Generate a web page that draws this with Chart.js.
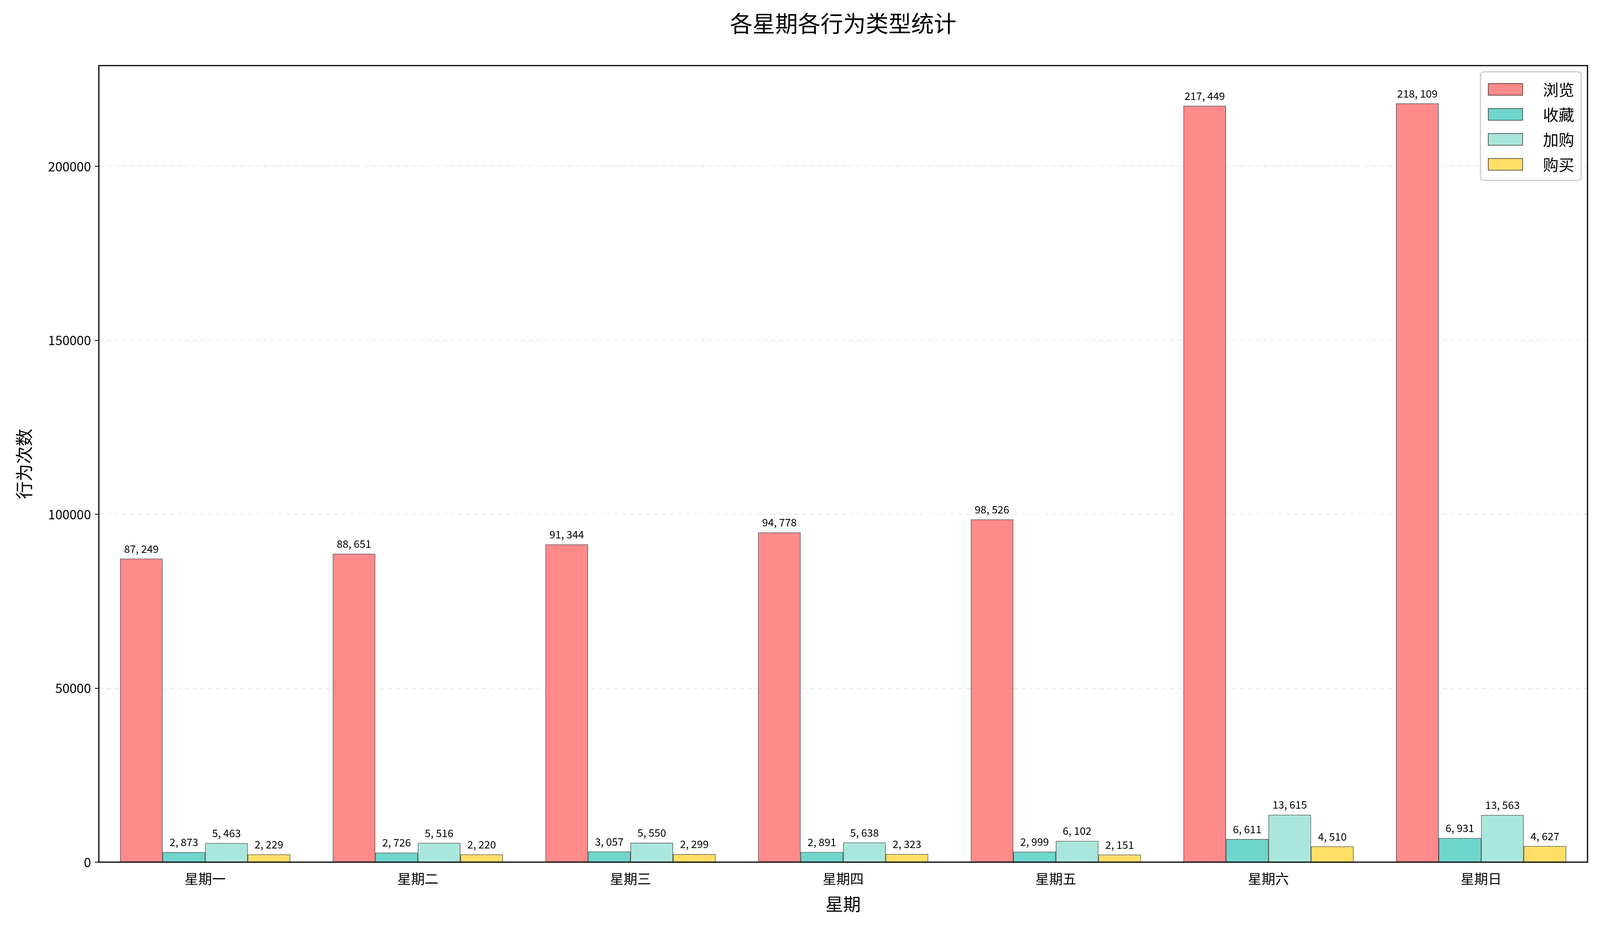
<!DOCTYPE html>
<html>
<head>
<meta charset="utf-8">
<script src="https://cdn.jsdelivr.net/npm/chart.js@4"></script>
<style>
  html, body { margin: 0; padding: 0; background: #fff; overflow: hidden; }
  #wrap { position: relative; width: 100vw; height: 100vh; }
</style>
</head>
<body>
<div id="wrap"><canvas id="myChart"></canvas></div>
<script>
"use strict";

const days = ["星期一", "星期二", "星期三", "星期四", "星期五", "星期六", "星期日"];
const seriesNames = ["浏览", "收藏", "加购", "购买"];
const browse = [87249, 88651, 91344, 94778, 98526, 217449, 218109];
const favor = [2873, 2726, 3057, 2891, 2999, 6611, 6931];
const cart = [5463, 5516, 5550, 5638, 6102, 13615, 13563];
const buy = [2229, 2220, 2299, 2323, 2151, 4510, 4627];
const yTicks = [0, 50000, 100000, 150000, 200000];
const colors = ["#ff8a8a", "#6ed6cd", "#a9e7dc", "#ffdf66"];

const FONT = "'Noto Sans CJK SC', 'DejaVu Sans', sans-serif";

function fmt(v) {
  return v.toString().replace(/\B(?=(\d{3})+(?!\d))/g, ", ");
}

const allSeries = [browse, favor, cart, buy];

// draws titles, bar labels, frame and legend
const decor = {
  id: "decor",
  afterDatasetsDraw(chart) {
    const ctx = chart.ctx;
    const a = chart.chartArea;
    const H = chart.height;
    ctx.save();
    // bar value labels
    ctx.fillStyle = "#000";
    ctx.font = "27px " + FONT;
    ctx.textAlign = "center";
    ctx.textBaseline = "bottom";
    chart.data.datasets.forEach((ds, i) => {
      chart.getDatasetMeta(i).data.forEach((bar, j) => {
        ctx.fillText(fmt(ds.data[j]), bar.x, bar.y - 12);
      });
    });
    // frame
    ctx.strokeStyle = "#000";
    ctx.lineWidth = 3;
    ctx.strokeRect(a.left, a.top, a.right - a.left, a.bottom - a.top);
    // title
    ctx.font = "58px " + FONT;
    ctx.textBaseline = "middle";
    ctx.fillText("各星期各行为类型统计", (a.left + a.right) / 2, 60);
    // x axis title
    ctx.font = "45px " + FONT;
    ctx.fillText("星期", (a.left + a.right) / 2, H - 53);
    // y axis title
    ctx.translate(62, (a.top + a.bottom) / 2);
    ctx.rotate(-Math.PI / 2);
    ctx.fillText("行为次数", 0, 0);
    ctx.restore();

    // legend
    ctx.save();
    const lw = 258, lh = 278;
    const lx = a.right - lw - 16, ly = a.top + 16;
    ctx.fillStyle = "rgba(255,255,255,0.85)";
    ctx.strokeStyle = "#ccc";
    ctx.lineWidth = 3;
    ctx.beginPath();
    ctx.roundRect(lx, ly, lw, lh, 8);
    ctx.fill();
    ctx.stroke();
    ctx.font = "40px " + FONT;
    ctx.textAlign = "right";
    ctx.textBaseline = "middle";
    seriesNames.forEach((name, i) => {
      const cy = ly + 44 + i * 64;
      ctx.fillStyle = colors[i];
      ctx.fillRect(lx + 20, cy - 14, 88, 30);
      ctx.strokeStyle = "#333";
      ctx.lineWidth = 1.5;
      ctx.strokeRect(lx + 20, cy - 14, 88, 30);
      ctx.fillStyle = "#000";
      ctx.fillText(name, lx + lw - 18, cy + 2);
    });
    ctx.restore();
  }
};

const config = {
  type: "bar",
  data: {
    labels: days,
    datasets: seriesNames.map((name, i) => ({
      label: name,
      data: allSeries[i],
      backgroundColor: colors[i],
      borderColor: "#333",
      borderWidth: 1.5,
      barPercentage: 1.0,
      categoryPercentage: 0.8
    }))
  },
  options: {
    responsive: true,
    maintainAspectRatio: false,
    devicePixelRatio: 1,
    animation: false,
    layout: { padding: { left: 0, right: 32, top: 168, bottom: 0 } },
    plugins: { legend: { display: false }, title: { display: false }, tooltip: { enabled: false } },
    scales: {
      x: {
        grid: { display: false },
        border: { display: false },
        ticks: { color: "#000", font: { size: 35, family: FONT }, padding: 14 },
        afterFit: (s) => { s.height = 161; }
      },
      y: {
        min: 0,
        max: 229000,
        afterBuildTicks: (s) => { s.ticks = yTicks.map(v => ({ value: v })); },
        grid: { color: "#e3e3e3", lineWidth: 2, tickLength: 10, tickColor: "#000" },
        border: { display: false, dash: [12, 8] },
        ticks: { color: "#000", font: { size: 33, family: FONT }, padding: 10, callback: (v) => String(v) },
        afterFit: (s) => { s.width = 253; }
      }
    }
  },
  plugins: [decor]
};

new Chart(document.getElementById("myChart"), config);
</script>
</body>
</html>
